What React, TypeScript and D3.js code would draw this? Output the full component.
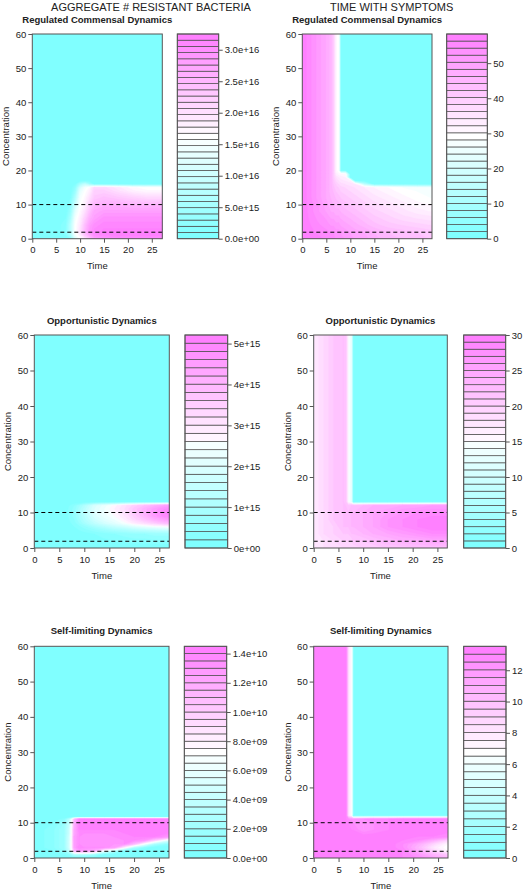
import React, { useEffect, useRef } from "react";
import * as d3 from "d3";

const W = 527;
const H = 892;

// ---------- shared data ----------
const timeTicks = [0, 5, 10, 15, 20, 25];
const concTicks = [0, 10, 20, 30, 40, 50, 60];
const concMax = 60;
const dashedLevels = [10, 1.9];
const columnTitles = ["AGGREGATE # RESISTANT BACTERIA", "TIME WITH SYMPTOMS"];
const panelTitles = [
  "Regulated Commensal Dynamics",
  "Regulated Commensal Dynamics",
  "Opportunistic Dynamics",
  "Opportunistic Dynamics",
  "Self-limiting Dynamics",
  "Self-limiting Dynamics",
];

// ---------- panel 1: resistant bacteria, regulated commensal (x 1e15) ----------
const p1Times = [0, 5, 7, 8, 9, 10, 11, 12, 13, 15, 18, 21, 24, 27.2];
const p1Conc = [0, 1, 2, 4, 6, 8, 10, 12, 14, 15, 16, 17, 20, 60];
const p1Values = [
  [0, 0, 0, 3, 12, 16, 19, 23, 27, 29, 30, 30, 30, 30],
  [0, 0, 1, 6, 15, 18, 23, 27, 30, 31, 32, 32, 32, 32],
  [0, 0, 2, 8, 16, 20, 25, 29, 31, 32, 32, 32, 32, 32],
  [0, 0, 2, 8, 16, 19, 24, 28, 30, 31, 31, 31, 31, 31],
  [0, 0, 1, 6, 15, 18, 22, 26, 28, 30, 30, 30, 30, 30],
  [0, 0, 0, 4, 13, 17, 20, 24, 27, 28, 28, 28, 28, 28],
  [0, 0, 0, 2, 10, 16, 18, 22, 25, 26, 26, 25, 25, 25],
  [0, 0, 0, 1, 7, 15, 17, 20, 23, 24, 23, 22, 21, 21],
  [0, 0, 0, 0, 4, 13, 16, 18, 22, 22, 20, 18, 17, 17],
  [0, 0, 0, 0, 3, 11, 15, 17, 21, 21, 19, 17, 16, 16],
  [0, 0, 0, 0, 1, 6, 9, 5, 0, 0, 0, 0, 0, 0],
  [0, 0, 0, 0, 0, 0, 0, 0, 0, 0, 0, 0, 0, 0],
  [0, 0, 0, 0, 0, 0, 0, 0, 0, 0, 0, 0, 0, 0],
  [0, 0, 0, 0, 0, 0, 0, 0, 0, 0, 0, 0, 0, 0],
];
const p1ZMax = 32.5;
const p1Bands = 33;
const p1KeyTicks = [0, 5, 10, 15, 20, 25, 30];
const p1KeyLabels = ["0.0e+00", "5.0e+15", "1.0e+16", "1.5e+16", "2.0e+16", "2.5e+16", "3.0e+16"];

// ---------- panel 2: time with symptoms, regulated commensal ----------
const p2Times = [0, 3, 5, 6, 6.5, 7, 7.6, 8, 9, 10, 11, 13, 15, 18, 21, 24, 27];
const p2Conc = [0, 2, 4, 6, 8, 10, 12, 14, 15, 16, 17, 18, 19, 20, 60];
const p2Values = [
  [58, 57, 56, 55, 55, 54, 54, 53, 52, 51, 50, 49, 47, 45, 44, 43, 42],
  [58, 56, 55, 54, 54, 53, 53, 52, 51, 50, 49, 48, 46, 44, 43, 42, 41],
  [58, 55, 53, 52, 52, 51, 51, 50, 49, 48, 47, 45, 43, 41, 40, 39, 38],
  [58, 54, 52, 50, 50, 49, 49, 48, 47, 46, 45, 43, 41, 39, 37, 36, 35],
  [58, 53, 50, 48, 48, 47, 47, 46, 45, 44, 43, 41, 39, 37, 35, 33, 32],
  [58, 53, 49, 47, 46, 45, 45, 44, 43, 42, 41, 39, 37, 35, 33, 31, 30],
  [58, 52, 48, 46, 45, 44, 43, 42, 41, 40, 39, 37, 35, 33, 31, 29, 28],
  [58, 52, 48, 45, 44, 42, 41, 40, 39, 38, 37, 35, 33, 31, 29, 28, 27],
  [58, 52, 48, 45, 43, 41, 40, 39, 38, 37, 36, 34, 32, 30, 28, 27, 26],
  [58, 52, 48, 45, 42, 40, 38, 37, 36, 35, 34, 14, 0, 0, 0, 0, 0],
  [58, 52, 48, 45, 41, 38, 36, 35, 34, 33, 0, 0, 0, 0, 0, 0, 0],
  [58, 52, 48, 45, 40, 36, 34, 33, 32, 0, 0, 0, 0, 0, 0, 0, 0],
  [58, 52, 48, 45, 40, 33, 31, 31, 30, 0, 0, 0, 0, 0, 0, 0, 0],
  [58, 52, 48, 45, 40, 31, 28, 0, 0, 0, 0, 0, 0, 0, 0, 0, 0],
  [58, 52, 48, 45, 40, 31, 28, 0, 0, 0, 0, 0, 0, 0, 0, 0, 0],
];
const p2ZMax = 58.3;
const p2Bands = 29;
const p2KeyTicks = [0, 10, 20, 30, 40, 50];
const p2KeyLabels = ["0", "10", "20", "30", "40", "50"];

// ---------- panel 3: resistant bacteria, opportunistic (x 1e14) ----------
const p3Times = [0, 6, 8, 10, 12, 14, 16, 18, 20, 22, 24, 26, 27];
const p3Conc = [0, 4, 5, 6, 7, 8, 9, 10, 11, 12, 13, 60];
const p3Values = [
  [0, 0, 0, 0, 0, 0, 0, 0, 0, 0, 0, 0, 0],
  [0, 0, 0, 1, 2, 3, 4, 5, 6, 6, 7, 7, 7],
  [0, 0, 1, 3, 5, 7, 9, 10, 12, 13, 14, 15, 16],
  [0, 0, 2, 5, 9, 12, 15, 17, 20, 22, 24, 25, 26],
  [0, 0, 3, 9, 14, 18, 21, 25, 29, 32, 35, 38, 39],
  [0, 0, 4, 11, 17, 21, 24, 28, 33, 37, 41, 44, 45],
  [0, 0, 5, 12, 19, 23, 26, 30, 35, 40, 45, 49, 50],
  [0, 0, 5, 13, 20, 24, 27, 31, 36, 41, 46, 50, 51],
  [0, 0, 5, 13, 20, 24, 28, 32, 37, 41, 45, 48, 49],
  [0, 0, 4, 11, 19, 23, 27, 31, 35, 38, 41, 44, 45],
  [0, 0, 0, 0, 0, 0, 0, 0, 0, 0, 0, 0, 0],
  [0, 0, 0, 0, 0, 0, 0, 0, 0, 0, 0, 0, 0],
];
const p3ZMax = 52.1;
const p3Bands = 26;
const p3KeyTicks = [0, 10, 20, 30, 40, 50];
const p3KeyLabels = ["0e+00", "1e+15", "2e+15", "3e+15", "4e+15", "5e+15"];

// ---------- panel 4: time with symptoms, opportunistic ----------
const p4Times = [0, 2, 4, 6, 6.5, 7, 7.6, 8, 10, 12, 15, 18, 21, 24, 27];
const p4Conc = [0, 2, 4, 6, 8, 10, 12, 13, 60];
const p4Values = [
  [17, 18, 18, 19, 19, 19, 19, 19, 20, 20, 21, 21, 22, 22, 22],
  [17, 18, 19, 20, 20, 20, 20, 21, 21, 22, 23, 24, 24, 25, 25],
  [17, 19, 20, 21, 21, 21, 22, 22, 23, 24, 25, 26, 27, 28, 28],
  [17, 19, 20, 22, 22, 22, 23, 23, 24, 25, 27, 28, 29, 30, 30],
  [17, 19, 21, 22, 22, 22, 23, 23, 24, 25, 27, 28, 29, 30, 30],
  [17, 19, 21, 22, 22, 22, 23, 23, 24, 25, 26, 27, 28, 28, 28],
  [17, 19, 21, 22, 22, 21, 22, 22, 23, 24, 24, 25, 25, 26, 26],
  [17, 19, 21, 22, 21, 15, 13, 0, 0, 0, 0, 0, 0, 0, 0],
  [17, 19, 21, 22, 21, 15, 13, 0, 0, 0, 0, 0, 0, 0, 0],
];
const p4ZMax = 30;
const p4Bands = 30;
const p4KeyTicks = [0, 5, 10, 15, 20, 25, 30];
const p4KeyLabels = ["0", "5", "10", "15", "20", "25", "30"];

// ---------- panel 5: resistant bacteria, self-limiting (x 1e9) ----------
const p5Times = [0, 4, 6, 7, 7.5, 8, 9, 10, 12, 14, 16, 18, 20, 22, 24, 27];
const p5Conc = [0, 1, 2, 3, 4, 5, 6, 7, 8, 10, 11, 11.6, 60];
const p5Values = [
  [0, 0, 0, 0, 0, 0, 0, 0, 0, 0, 0, 0, 0, 0, 0, 0],
  [0, 0, 0.5, 1, 2, 3, 3, 3, 2, 0, 0, 0, 0, 0, 0, 0],
  [0, 0.5, 1.5, 4, 7, 11, 12.5, 12.5, 11.5, 6, 3, 0, 0, 0, 0, 0],
  [0, 1, 2, 5, 7.5, 12.5, 14, 13.5, 13.5, 13.5, 12.5, 8, 3, 1, 0, 0],
  [0, 1, 2, 5, 7.5, 12.5, 13.5, 13, 13, 13, 13, 13.5, 11, 7, 3, 1],
  [0, 1, 2, 5, 7.5, 12.5, 13.5, 13, 13, 13, 13, 13.5, 13.5, 13, 10, 5],
  [0, 1, 2, 5, 7.5, 12.5, 13.5, 13, 13, 13, 13.5, 13.5, 14, 14, 14, 13],
  [0, 1, 2, 4.5, 7.5, 12, 13.5, 13.5, 13.5, 13.5, 13.5, 14, 14, 14, 14, 14],
  [0, 1, 2, 4.5, 7.5, 12, 14, 14, 14, 14, 14, 14, 14, 14, 14, 14],
  [0, 0.5, 1.5, 4, 7, 11.5, 14, 14, 14, 14, 14, 14, 14, 14, 14, 14],
  [0, 0, 1, 3.5, 6.5, 11, 14, 14, 14, 14, 14, 14, 14, 14, 14, 14],
  [0, 0, 0, 0, 0, 0, 0, 0, 0, 0, 0, 0, 0, 0, 0, 0],
  [0, 0, 0, 0, 0, 0, 0, 0, 0, 0, 0, 0, 0, 0, 0, 0],
];
const p5ZMax = 14.5;
const p5Bands = 29;
const p5KeyTicks = [0, 2, 4, 6, 8, 10, 12, 14];
const p5KeyLabels = ["0.0e+00", "2.0e+09", "4.0e+09", "6.0e+09", "8.0e+09", "1.0e+10", "1.2e+10", "1.4e+10"];

// ---------- panel 6: time with symptoms, self-limiting ----------
const p6Times = [0, 3, 6, 6.5, 7, 7.6, 8, 10, 12, 15, 18, 21, 24, 27];
const p6Conc = [0, 1, 2, 3, 4, 5, 6, 8, 10, 11, 12, 60];
const p6Values = [
  [13.5, 13.5, 13.5, 13.5, 13.5, 13.5, 13.5, 13.5, 13.5, 13.5, 13, 12.5, 11.5, 10.5],
  [13.5, 13.5, 13.5, 13.5, 13.5, 13.5, 13.5, 13.5, 13.5, 13.5, 13, 12, 10.5, 9.5],
  [13.5, 13.5, 13.5, 13.5, 13.5, 13.5, 13.5, 13.5, 13.5, 13.5, 13, 11, 9, 7],
  [13.5, 13.5, 13.5, 13.5, 13.5, 13.5, 13.5, 13.5, 13.5, 13.5, 12.5, 10.5, 8, 6.5],
  [13.5, 13.5, 13.5, 13.5, 13.5, 13.5, 13.5, 13.5, 13.5, 13.5, 12.5, 11, 9, 7],
  [13.5, 13.5, 13.5, 13.5, 13.5, 13.5, 13.5, 13.5, 13.5, 13.5, 13, 12.5, 11, 9],
  [13.5, 13.5, 13.5, 13.5, 13.5, 13.5, 13.5, 13.5, 13.5, 13.5, 13.5, 13, 13, 12.5],
  [13.5, 13.5, 13.5, 13.5, 13.5, 13, 13, 12, 12.5, 13, 13.5, 13.5, 13.5, 13.5],
  [13.5, 13.5, 13.5, 13.5, 13, 13, 12.5, 12, 12.5, 13, 13.5, 13.5, 13.5, 13.5],
  [13.5, 13.5, 13.5, 13, 12.5, 12, 12, 12.5, 13, 13, 13.5, 13.5, 13.5, 13.5],
  [13.5, 13.5, 13.5, 13, 8, 6.8, 0, 0, 0, 0, 0, 0, 0, 0],
  [13.5, 13.5, 13.5, 13, 8, 6.8, 0, 0, 0, 0, 0, 0, 0, 0],
];
const p6ZMax = 13.53;
const p6Bands = 27;
const p6KeyTicks = [0, 2, 4, 6, 8, 10, 12];
const p6KeyLabels = ["0", "2", "4", "6", "8", "10", "12"];

const PANELS = [
  { times: p1Times, conc: p1Conc, values: p1Values, zmax: p1ZMax, bands: p1Bands, keyTicks: p1KeyTicks, keyLabels: p1KeyLabels },
  { times: p2Times, conc: p2Conc, values: p2Values, zmax: p2ZMax, bands: p2Bands, keyTicks: p2KeyTicks, keyLabels: p2KeyLabels },
  { times: p3Times, conc: p3Conc, values: p3Values, zmax: p3ZMax, bands: p3Bands, keyTicks: p3KeyTicks, keyLabels: p3KeyLabels },
  { times: p4Times, conc: p4Conc, values: p4Values, zmax: p4ZMax, bands: p4Bands, keyTicks: p4KeyTicks, keyLabels: p4KeyLabels },
  { times: p5Times, conc: p5Conc, values: p5Values, zmax: p5ZMax, bands: p5Bands, keyTicks: p5KeyTicks, keyLabels: p5KeyLabels },
  { times: p6Times, conc: p6Conc, values: p6Values, zmax: p6ZMax, bands: p6Bands, keyTicks: p6KeyTicks, keyLabels: p6KeyLabels },
];

// ---------- layout (pixels) ----------
const LAYOUT = [
  { x0: 32.3, x1: 162.3, y0: 34, y1: 238.7, k0: 177.3, k1: 218.7, tY: 22.5 },
  { x0: 302.3, x1: 432, y0: 34, y1: 238.7, k0: 446.7, k1: 487.3, tY: 22.5 },
  { x0: 34.3, x1: 169.3, y0: 335, y1: 548, k0: 185, k1: 227.7, tY: 323.5 },
  { x0: 313.7, x1: 447.3, y0: 335, y1: 548, k0: 463.7, k1: 505.7, tY: 323.5 },
  { x0: 34.3, x1: 169, y0: 646.3, y1: 858, k0: 184.3, k1: 226.7, tY: 633.5 },
  { x0: 313.7, x1: 448, y0: 646.3, y1: 858, k0: 463.7, k1: 506, tY: 633.5 },
];
const COL_TITLE_X = [151, 391.7];
const COL_TITLE_Y = 11;

const FONT = "'Liberation Sans', Arial, Helvetica, sans-serif";
const TEXT = "#222";
const LINE = "#555";

// R's cm.colors palette
function cmColors(n: number): string[] {
  const even = n % 2 === 0;
  const k = Math.floor(n / 2);
  const l1 = k + 1 - (even ? 1 : 0);
  const l2 = n - k + (even ? 1 : 0);
  const seq = (a: number, b: number, len: number) =>
    len === 1 ? [a] : d3.range(len).map((i) => a + ((b - a) * i) / (len - 1));
  const hex = (r: number, g: number, b: number) => d3.rgb(r, g, b).formatHex();
  const out: string[] = [];
  if (l1 > 0) seq(0.5, even ? 0.5 / k : 0, l1).forEach((s) => out.push(hex(Math.round(255 * (1 - s)), 255, 255)));
  if (l2 > 1) seq(0, 0.5, l2).slice(1).forEach((s) => out.push(hex(255, Math.round(255 * (1 - s)), 255)));
  return out;
}

function styleAxis(g: any) {
  g.selectAll("path.domain").attr("stroke", LINE).attr("stroke-width", 1);
  g.selectAll(".tick line").attr("stroke", LINE).attr("stroke-width", 1);
  g.selectAll(".tick text").attr("fill", TEXT).attr("font-family", FONT).attr("font-size", 9.5);
}

function drawPanel(svg: any, p: any, L: any, idx: number) {
  const nx = p.times.length;
  const ny = p.conc.length;
  const x = d3.scaleLinear().domain([0, p.times[nx - 1]]).range([L.x0, L.x1]);
  const y = d3.scaleLinear().domain([0, concMax]).range([L.y1, L.y0]);
  const ti = d3.scaleLinear().domain(d3.range(nx)).range(p.times).clamp(true);
  const ci = d3.scaleLinear().domain(d3.range(ny)).range(p.conc).clamp(true);

  const flat: number[] = [];
  for (let j = 0; j < ny; j++) for (let i = 0; i < nx; i++) flat.push(p.values[j][i]);
  const levels = d3.range(p.bands + 1).map((k) => (p.zmax * k) / p.bands);
  const colors = cmColors(p.bands);
  const contours = d3.contours().size([nx, ny]).thresholds(levels.slice(0, -1))(flat);

  const proj = d3.geoTransform({
    point: function (this: any, px: number, py: number) {
      this.stream.point(x(ti(px - 0.5)), y(ci(py - 0.5)));
    },
  });
  const path = d3.geoPath(proj as any);

  const clipId = `clip-${idx}`;
  svg
    .append("clipPath")
    .attr("id", clipId)
    .append("rect")
    .attr("x", L.x0)
    .attr("y", L.y0)
    .attr("width", L.x1 - L.x0)
    .attr("height", L.y1 - L.y0);

  const gc = svg.append("g").attr("clip-path", `url(#${clipId})`);
  gc.selectAll("path")
    .data(contours)
    .join("path")
    .attr("d", (c: any) => path(c))
    .attr("fill", (_: any, i: number) => colors[Math.min(i, colors.length - 1)])
    .attr("fill-rule", "evenodd")
    .attr("stroke", (_: any, i: number) => colors[Math.min(i, colors.length - 1)])
    .attr("stroke-width", 0.3);

  // dashed reference lines
  gc.selectAll("line.ref")
    .data(dashedLevels)
    .join("line")
    .attr("x1", L.x0)
    .attr("x2", L.x1)
    .attr("y1", (d: number) => y(d))
    .attr("y2", (d: number) => y(d))
    .attr("stroke", "#000")
    .attr("stroke-width", 1)
    .attr("stroke-dasharray", "4,3");

  // frame
  svg
    .append("rect")
    .attr("x", L.x0)
    .attr("y", L.y0)
    .attr("width", L.x1 - L.x0)
    .attr("height", L.y1 - L.y0)
    .attr("fill", "none")
    .attr("stroke", LINE)
    .attr("stroke-width", 1);

  // axes
  const ax = svg
    .append("g")
    .attr("transform", `translate(0,${L.y1})`)
    .call(d3.axisBottom(x).tickValues(timeTicks).tickFormat(d3.format("d") as any).tickSize(4).tickPadding(4).tickSizeOuter(0));
  styleAxis(ax);
  ax.select("path.domain").remove();
  const ay = svg
    .append("g")
    .attr("transform", `translate(${L.x0},0)`)
    .call(d3.axisLeft(y).tickValues(concTicks).tickFormat(d3.format("d") as any).tickSize(4).tickPadding(2).tickSizeOuter(0));
  styleAxis(ay);
  ay.select("path.domain").remove();

  // axis titles
  svg
    .append("text")
    .attr("x", (L.x0 + L.x1) / 2)
    .attr("y", L.y1 + 30.5)
    .attr("text-anchor", "middle")
    .attr("font-family", FONT)
    .attr("font-size", 9.5)
    .attr("fill", TEXT)
    .text("Time");
  const ylx = L.x0 - 26.5 + 3.3;
  const yly = (L.y0 + L.y1) / 2;
  svg
    .append("text")
    .attr("transform", `translate(${ylx},${yly}) rotate(-90)`)
    .attr("text-anchor", "middle")
    .attr("font-family", FONT)
    .attr("font-size", 9.5)
    .attr("fill", TEXT)
    .text("Concentration");

  // panel title
  svg
    .append("text")
    .attr("x", (L.x0 + L.x1) / 2)
    .attr("y", L.tY)
    .attr("text-anchor", "middle")
    .attr("font-family", FONT)
    .attr("font-weight", "bold")
    .attr("font-size", 9.5)
    .attr("fill", TEXT)
    .text(panelTitles[idx]);

  // colour key
  const ky = d3.scaleLinear().domain([0, p.zmax]).range([L.y1, L.y0]);
  const bandData = d3.range(p.bands).map((k) => [levels[k], levels[k + 1], colors[k]]);
  svg
    .append("g")
    .selectAll("rect")
    .data(bandData)
    .join("rect")
    .attr("x", L.k0)
    .attr("width", L.k1 - L.k0)
    .attr("y", (d: any) => ky(d[1]))
    .attr("height", (d: any) => ky(d[0]) - ky(d[1]))
    .attr("fill", (d: any) => d[2])
    .attr("stroke", "#4a4a4a")
    .attr("stroke-width", 0.7);
  svg
    .append("rect")
    .attr("x", L.k0)
    .attr("y", L.y0)
    .attr("width", L.k1 - L.k0)
    .attr("height", L.y1 - L.y0)
    .attr("fill", "none")
    .attr("stroke", LINE)
    .attr("stroke-width", 1);
  const ak = svg
    .append("g")
    .attr("transform", `translate(${L.k1},0)`)
    .call(
      d3
        .axisRight(ky)
        .tickValues(p.keyTicks)
        .tickFormat((_: any, i: number) => p.keyLabels[i])
        .tickSize(4)
        .tickPadding(2)
        .tickSizeOuter(0)
    );
  styleAxis(ak);
  ak.select("path.domain").remove();
}

export default function App() {
  const ref = useRef<SVGSVGElement>(null);
  useEffect(() => {
    const svg = d3.select(ref.current);
    svg.selectAll("*").remove();
    svg.append("rect").attr("width", W).attr("height", H).attr("fill", "#fff");
    PANELS.forEach((p, i) => drawPanel(svg, p, LAYOUT[i], i));
    svg
      .selectAll("text.coltitle")
      .data(columnTitles)
      .join("text")
      .attr("class", "coltitle")
      .attr("x", (_: any, i: number) => COL_TITLE_X[i])
      .attr("y", COL_TITLE_Y)
      .attr("text-anchor", "middle")
      .attr("font-family", FONT)
      .attr("font-size", 11)
      .attr("fill", TEXT)
      .text((d: string) => d);
  }, []);
  return (
    <svg
      ref={ref}
      width={W}
      height={H}
      style={{ position: "absolute", left: 0, top: 0, display: "block" }}
    />
  );
}
